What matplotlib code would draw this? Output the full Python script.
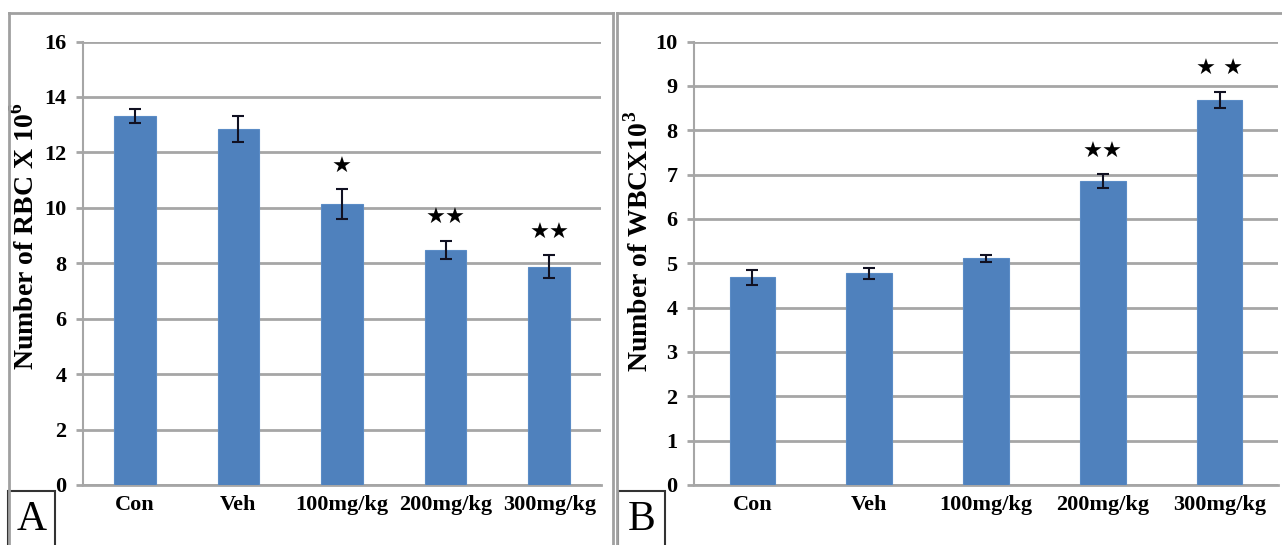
import matplotlib
matplotlib.use("Agg")
import matplotlib.pyplot as plt
from matplotlib.patches import Rectangle
from matplotlib.lines import Line2D

plt.rcParams["mathtext.fontset"] = "custom"
plt.rcParams["mathtext.rm"] = "Liberation Serif:bold"
plt.rcParams["mathtext.bf"] = "Liberation Serif:bold"

categories = ["Con", "Veh", "100mg/kg", "200mg/kg", "300mg/kg"]

rbc_values = [13.32, 12.84, 10.13, 8.49, 7.88]
rbc_errors = [0.26, 0.46, 0.55, 0.33, 0.42]
rbc_sig = ["", "", "★", "★★", "★★"]

wbc_values = [4.68, 4.77, 5.11, 6.85, 8.69]
wbc_errors = [0.17, 0.12, 0.08, 0.16, 0.18]
wbc_sig = ["", "", "", "★★", "★ ★"]

W, H = 1282, 545
fig = plt.figure(figsize=(W / 100, H / 100), dpi=100)
fig.patch.set_facecolor("white")

serif = "Liberation Serif"
bar_color = "#4F81BD"
grid_color = "#a6a6a6"


def fx(px):
    return px / W


def fy(py):
    return 1 - py / H


def panel(rect, values, errors, sig, ymax, yticks, ylabel, label_xy, bw):
    ax = fig.add_axes(rect)
    x = list(range(len(categories)))
    ax.bar(x, values, width=bw, color=bar_color, edgecolor="#5b8cc6",
           linewidth=0.8, zorder=3)
    ax.errorbar(x, values, yerr=errors, fmt="none", ecolor="#111122",
                elinewidth=1.5, capsize=4, capthick=1.5, zorder=4)
    for xi, v, e, s in zip(x, values, errors, sig):
        if s:
            ax.annotate(s, (xi, v + e), xytext=(0, 16), textcoords="offset points",
                        ha="center", va="center", fontsize=16,
                        family="DejaVu Sans", color="black", zorder=5)
    ax.set_xlim(-0.5, len(categories) - 0.5)
    ax.set_ylim(0, ymax)
    ax.set_yticks(yticks)
    ax.yaxis.grid(True, color=grid_color, linewidth=2, zorder=0)
    ax.set_axisbelow(True)
    for side in ["top", "right"]:
        ax.spines[side].set_visible(False)
    ax.spines["left"].set_color(grid_color)
    ax.spines["left"].set_linewidth(1.5)
    ax.spines["bottom"].set_color(grid_color)
    ax.spines["bottom"].set_linewidth(2)
    ax.tick_params(axis="y", length=5, width=2, color=grid_color, pad=7)
    ax.tick_params(axis="x", length=0, pad=7)
    ax.set_xticks(x)
    ax.set_xticklabels(categories)
    for lab in ax.get_xticklabels() + ax.get_yticklabels():
        lab.set_family(serif)
        lab.set_fontweight("bold")
        lab.set_fontsize(16)
    ax.set_ylabel(ylabel, family=serif, fontweight="bold", fontsize=20)
    ax.yaxis.set_label_coords(*label_xy)
    return ax


axA = panel([fx(83), fy(485), fx(518), (485 - 41.5) / H], rbc_values, rbc_errors,
            rbc_sig, 16, range(0, 17, 2), "Number of RBC X 10$^{6}$",
            (-0.083, 0.56), 0.40)
axB = panel([fx(694), fy(485), fx(584), (485 - 41.5) / H], wbc_values, wbc_errors,
            wbc_sig, 10, range(0, 11, 1), "Number of WBCX10$^{3}$",
            (-0.070, 0.55), 0.39)

border = "#a0a0a0"
# panel frames
fig.add_artist(Line2D([fx(9), fx(613)], [fy(13), fy(13)], color=border, lw=2))
fig.add_artist(Line2D([fx(9), fx(9)], [fy(13), 0], color=border, lw=2))
fig.add_artist(Line2D([fx(613), fx(613)], [fy(13), 0], color=border, lw=2))
fig.add_artist(Line2D([fx(617), 1], [fy(13), fy(13)], color=border, lw=2))
fig.add_artist(Line2D([fx(617), fx(617)], [fy(13), 0], color=border, lw=2))

# letter boxes
for left, right, letter in [(8, 55, "A"), (618, 665, "B")]:
    fig.add_artist(Rectangle((fx(left), fy(560)), fx(right - left), (560 - 491) / H,
                             fill=False, edgecolor="#333333", lw=1.5,
                             transform=fig.transFigure))
    fig.text(fx((left + right) / 2), fy(520), letter, family=serif, fontsize=30,
             ha="center", va="center", color="black")

fig.savefig("out.png", dpi=100, facecolor="white")
